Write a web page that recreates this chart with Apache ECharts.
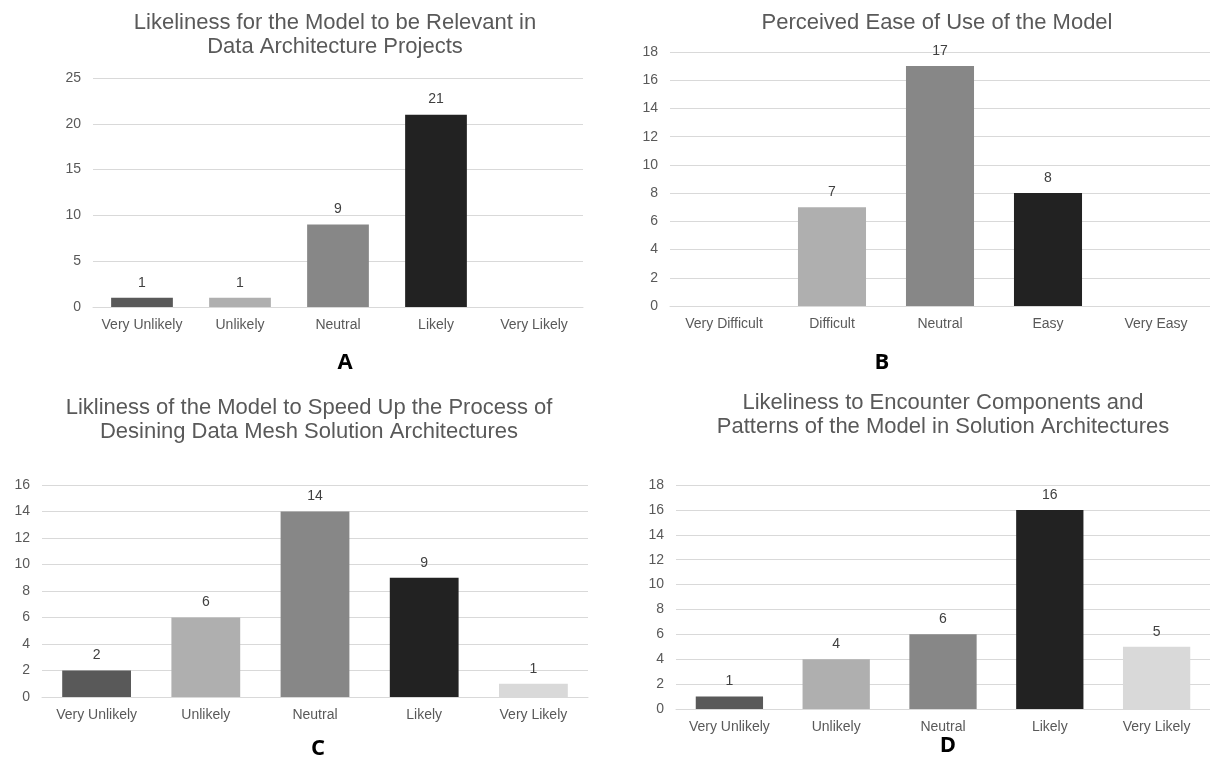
<!DOCTYPE html>
<html>
<head>
<meta charset="utf-8">
<script src="https://cdn.jsdelivr.net/npm/echarts@6/dist/echarts.min.js"></script>
<style>
  html, body { margin: 0; padding: 0; background: #ffffff; }
  #chart { width: 1210px; height: 765px; }
</style>
</head>
<body>
<div id="chart"></div>
<script>
// Survey answers, one panel per question
const likelyCategories = ['Very Unlikely', 'Unlikely', 'Neutral', 'Likely', 'Very Likely'];
const easeCategories = ['Very Difficult', 'Difficult', 'Neutral', 'Easy', 'Very Easy'];

const relevanceCounts = [1, 1, 9, 21, 0];
const easeCounts = [0, 7, 17, 8, 0];
const speedUpCounts = [2, 6, 14, 9, 1];
const encounterCounts = [1, 4, 6, 16, 5];

const titleA = 'Likeliness for the Model to be Relevant in\nData Architecture Projects';
const titleB = 'Perceived Ease of Use of the Model';
const titleC = 'Likliness of the Model to Speed Up the Process of\nDesining Data Mesh Solution Architectures';
const titleD = 'Likeliness to Encounter Components and\nPatterns of the Model in Solution Architectures';

const panelLetters = ['A', 'B', 'C', 'D'];

// Shade per answer position (darkest for "Likely"/"Easy")
const barShades = ['#595959', '#afafaf', '#878787', '#222222', '#d9d9d9'];

const FONT = '"Liberation Sans", Arial, sans-serif';
const LETTER_FONT = '"Open Sans", "DejaVu Sans", sans-serif';

const grids = [
  { left: 93, top: 78, width: 490, height: 229 },
  { left: 670, top: 52, width: 543, height: 254 },
  { left: 42, top: 485, width: 546, height: 212 },
  { left: 676, top: 485, width: 541, height: 224 }
];
const yScales = [
  { max: 25, interval: 5 },
  { max: 18, interval: 2 },
  { max: 16, interval: 2 },
  { max: 18, interval: 2 }
];
const panelCats = [likelyCategories, easeCategories, likelyCategories, likelyCategories];
const panelData = [relevanceCounts, easeCounts, speedUpCounts, encounterCounts];

const chart = echarts.init(document.getElementById('chart'), null, { renderer: 'canvas' });

const option = {
  backgroundColor: '#ffffff',
  animation: false,
  title: [
    { text: titleA, left: 330, top: 6, textAlign: 'center' },
    { text: titleB, left: 932, top: 6, textAlign: 'center' },
    { text: titleC, left: 304, top: 391, textAlign: 'center' },
    { text: titleD, left: 938, top: 386, textAlign: 'center' }
  ].map(t => Object.assign(t, {
    textStyle: { fontFamily: FONT, fontSize: 22, fontWeight: 'normal', color: '#595959', lineHeight: 24 }
  })),
  grid: grids,
  xAxis: panelCats.map((cats, i) => ({
    type: 'category',
    gridIndex: i,
    data: cats,
    axisTick: { show: false },
    axisLine: { show: true, lineStyle: { color: '#d9d9d9', width: 1 } },
    axisLabel: { color: '#595959', fontFamily: FONT, fontSize: 14, margin: 11, interval: 0 }
  })),
  yAxis: yScales.map((s, i) => ({
    type: 'value',
    gridIndex: i,
    min: 0,
    max: s.max,
    interval: s.interval,
    axisLine: { show: false },
    axisTick: { show: false },
    splitLine: { lineStyle: { color: '#d9d9d9', width: 1 } },
    axisLabel: { color: '#595959', fontFamily: FONT, fontSize: 14, margin: 12 }
  })),
  series: panelData.map((vals, i) => ({
    type: 'bar',
    xAxisIndex: i,
    yAxisIndex: i,
    barWidth: '63%',
    data: vals.map((v, j) => ({ value: v, itemStyle: { color: barShades[j] } })),
    label: {
      show: true,
      position: 'top',
      distance: 8,
      color: '#404040',
      fontFamily: FONT,
      fontSize: 14,
      formatter: p => (p.value ? String(p.value) : '')
    }
  })),
  graphic: [
    [345, 363], [882, 363], [318, 749], [948, 746]
  ].map((pos, i) => ({
    type: 'text',
    x: pos[0],
    y: pos[1],
    style: {
      text: panelLetters[i],
      fill: '#000000',
      font: 'bold 22px ' + LETTER_FONT,
      textAlign: 'center',
      textVerticalAlign: 'middle'
    }
  }))
};

chart.setOption(option);
</script>
</body>
</html>
